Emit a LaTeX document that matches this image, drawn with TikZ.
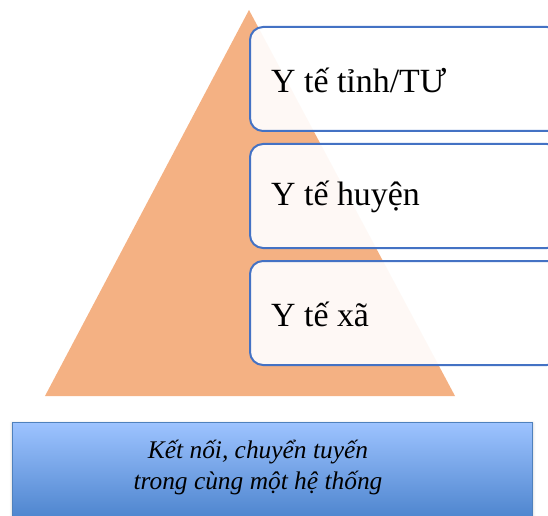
\documentclass[tikz,border=0pt]{standalone}
\usepackage{fontspec}
\setmainfont{Liberation Serif}
\usetikzlibrary{shadows.blur}
\definecolor{tri}{HTML}{F4B183}
\definecolor{boxline}{HTML}{4472C4}
\definecolor{topblue}{HTML}{9DC3FF}
\definecolor{botblue}{HTML}{4A82CC}
\definecolor{rectline}{HTML}{4F81BD}
\tikzset{
  levelbox/.style={draw=boxline, line width=2bp, rounded corners=13bp, fill=white, fill opacity=0.92,
    text opacity=1, minimum width=310bp, minimum height=104bp, anchor=north west, inner sep=0pt},
  leveltext/.style={anchor=west, font=\fontsize{34}{38}\selectfont, inner sep=0pt},
}
\begin{document}
\begin{tikzpicture}[x=1bp, y=-1bp]
\useasboundingbox (0,0) rectangle (548,516);
\clip (0,0) rectangle (548,516);
% pyramid
\fill[tri] (249,10) -- (455,396) -- (45,396) -- cycle;
% level boxes
\node[levelbox] (b1) at (249,26) {};
\node[levelbox] (b2) at (249,143) {};
\node[levelbox] (b3) at (249,260) {};
\node[leveltext] (t1) at ([xshift=22bp,yshift=-1bp]b1.west) {Y tế tỉnh/TƯ};
\node[leveltext] (t2) at ([xshift=22bp,yshift=-1bp]b2.west) {Y tế huyện};
\node[leveltext] (t3) at ([xshift=22bp,yshift=-1bp]b3.west) {Y tế xã};
% bottom rectangle
\node[draw=rectline, line width=1bp, top color=topblue, bottom color=botblue,
  minimum width=520bp, minimum height=100bp, anchor=north west, inner sep=0pt,
  blur shadow={shadow xshift=0bp, shadow yshift=-1bp, shadow blur radius=3bp, shadow opacity=25}] (base) at (12,422) {};
\node[align=center, font=\itshape\fontsize{25.5}{31}\selectfont, inner sep=0pt, anchor=north] (bt) at (258,440)
  {Kết nối, chuyển tuyến\\trong cùng một hệ thống};
\end{tikzpicture}
\end{document}
